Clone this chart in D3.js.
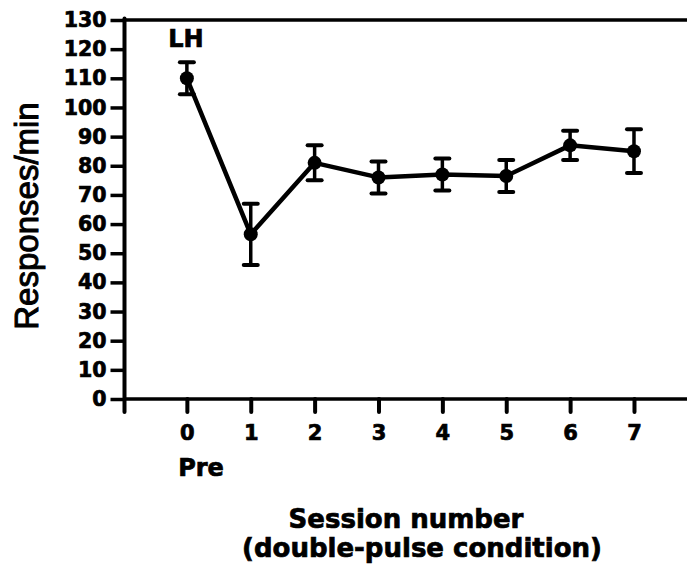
<!DOCTYPE html>
<html>
<head>
<meta charset="utf-8">
<script src="https://cdn.jsdelivr.net/npm/d3@7/dist/d3.min.js"></script>
<style>
  html, body { margin: 0; padding: 0; background: #fff; }
  svg { display: block; }
</style>
</head>
<body>
<svg id="chart" width="687" height="573"></svg>
<script>
// Session numbers (0 = pre-training baseline)
const sessions = [0, 1, 2, 3, 4, 5, 6, 7];
// Mean response rate per session (responses/min)
const meanRate = [110, 56.5, 81, 76, 77, 76.5, 87, 85];
// Error bar half-widths (responses/min)
const errRate = [5.5, 10.5, 6, 5.5, 5.5, 5.5, 5, 7.5];
// Axis tick values
const yTicks = [0, 10, 20, 30, 40, 50, 60, 70, 80, 90, 100, 110, 120, 130];
const xTicks = [0, 1, 2, 3, 4, 5, 6, 7];

const svg = d3.select("#chart");
const boldFont = "'DejaVu Sans', sans-serif";

const x = d3.scaleLinear().domain([-1, 7.83]).range([123, 687]);
const y = d3.scaleLinear().domain([0, 130]).range([399, 20]);

const rows = sessions.map((s, i) => ({ s, m: meanRate[i], e: errRate[i] }));

function heavy(sel, size) {
  sel.attr("fill", "#000")
    .attr("stroke", "#000").attr("stroke-width", 0.7)
    .style("font-family", boldFont)
    .style("font-weight", "bold")
    .style("font-size", size + "px");
}

// Y axis
const yAxis = svg.append("g")
  .attr("transform", `translate(${x(-1) + 1.5},0)`)
  .call(d3.axisLeft(y).tickValues(yTicks).tickSize(14).tickSizeOuter(0).tickPadding(4));
yAxis.select(".domain").remove();
yAxis.selectAll(".tick line").attr("stroke", "#000").attr("stroke-width", 3.5);
heavy(yAxis.selectAll(".tick text"), 20.5);

// X axis
const xAxis = svg.append("g")
  .attr("transform", `translate(0,${y(0)})`)
  .call(d3.axisBottom(x).tickValues(xTicks).tickSize(13).tickSizeOuter(0).tickPadding(13));
xAxis.select(".domain").remove();
xAxis.selectAll(".tick line").attr("stroke", "#000").attr("stroke-width", 4).attr("stroke-linecap", "round");
heavy(xAxis.selectAll(".tick text"), 21);

// Frame lines: left axis (runs slightly past the origin), bottom axis, top rule
svg.append("line")
  .attr("x1", x(-1) + 1.5).attr("x2", x(-1) + 1.5)
  .attr("y1", y(130) - 1.5).attr("y2", y(0) + 13)
  .attr("stroke", "#000").attr("stroke-width", 4).attr("stroke-linecap", "round");
svg.append("line")
  .attr("x1", x(-1)).attr("x2", 687)
  .attr("y1", y(0)).attr("y2", y(0))
  .attr("stroke", "#000").attr("stroke-width", 3.5);
svg.append("line")
  .attr("x1", x(-1)).attr("x2", 687)
  .attr("y1", y(130)).attr("y2", y(130))
  .attr("stroke", "#000").attr("stroke-width", 3.5);

// Data line
svg.append("path")
  .datum(rows)
  .attr("fill", "none")
  .attr("stroke", "#000")
  .attr("stroke-width", 4.5)
  .attr("stroke-linejoin", "round")
  .attr("d", d3.line().x(d => x(d.s)).y(d => y(d.m)));

// Error bars
const eb = svg.append("g").selectAll("g").data(rows).join("g");
eb.append("line")
  .attr("x1", d => x(d.s)).attr("x2", d => x(d.s))
  .attr("y1", d => y(d.m + d.e)).attr("y2", d => y(d.m - d.e))
  .attr("stroke", "#000").attr("stroke-width", 3.5);
eb.selectAll(".cap").data(d => [[d.s, d.m + d.e], [d.s, d.m - d.e]]).join("line")
  .attr("class", "cap")
  .attr("x1", d => x(d[0]) - 7).attr("x2", d => x(d[0]) + 7)
  .attr("y1", d => y(d[1])).attr("y2", d => y(d[1]))
  .attr("stroke", "#000").attr("stroke-width", 4).attr("stroke-linecap", "round");

// Markers
svg.append("g").selectAll("circle").data(rows).join("circle")
  .attr("cx", d => x(d.s)).attr("cy", d => y(d.m)).attr("r", 7)
  .attr("fill", "#000");

// Panel label
heavy(svg.append("text")
  .attr("x", 186).attr("y", 47)
  .attr("text-anchor", "middle")
  .text("LH"), 24);

// "Pre" under session 0
heavy(svg.append("text")
  .attr("x", 201).attr("y", 476)
  .attr("text-anchor", "middle")
  .text("Pre"), 24);

// X axis title
heavy(svg.append("text")
  .attr("x", 406).attr("y", 528)
  .attr("text-anchor", "middle")
  .text("Session number"), 26);
heavy(svg.append("text")
  .attr("x", 422).attr("y", 557)
  .attr("text-anchor", "middle")
  .text("(double-pulse condition)"), 26);

// Y axis title
svg.append("text")
  .attr("transform", "translate(38,216) rotate(-90)")
  .attr("text-anchor", "middle")
  .style("font-family", "'Liberation Sans', Arial, sans-serif")
  .style("font-size", "33px")
  .attr("stroke", "#000").attr("stroke-width", 1)
  .text("Responses/min");
</script>
</body>
</html>
